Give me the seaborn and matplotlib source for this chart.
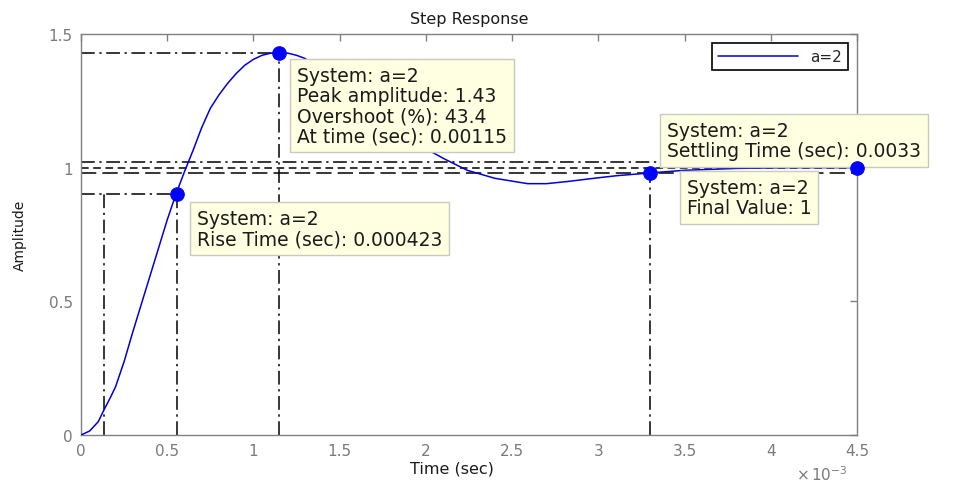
import matplotlib
matplotlib.use("Agg")
import matplotlib.pyplot as plt
import seaborn as sns

# Step response of the a=2 system: time in milliseconds, amplitude
time_ms = [0.00, 0.05, 0.10, 0.13, 0.17, 0.20, 0.25, 0.30, 0.35, 0.40,
           0.45, 0.50, 0.55, 0.60, 0.65, 0.70, 0.75, 0.80, 0.85, 0.90,
           0.95, 1.00, 1.05, 1.10, 1.15, 1.20, 1.25, 1.30, 1.40, 1.50,
           1.60, 1.70, 1.80, 1.90, 2.01, 2.10, 2.24, 2.40, 2.59, 2.70,
           2.82, 3.00, 3.11, 3.30, 3.50, 3.80, 4.10, 4.50]
amplitude = [0.000, 0.015, 0.050, 0.090, 0.140, 0.180, 0.275, 0.385, 0.490, 0.595,
             0.700, 0.805, 0.900, 0.985, 1.065, 1.150, 1.222, 1.272, 1.315, 1.352,
             1.383, 1.405, 1.420, 1.428, 1.430, 1.428, 1.420, 1.408, 1.350, 1.300,
             1.250, 1.190, 1.140, 1.100, 1.067, 1.035, 0.990, 0.960, 0.940, 0.940,
             0.948, 0.962, 0.970, 0.980, 0.990, 0.997, 1.000, 1.000]

# Response characteristics
system_name = "a=2"
peak_amplitude = 1.43
overshoot_pct = 43.4
peak_time_s = 0.00115
rise_low, rise_high = 0.1, 0.9
rise_start_s = 0.000133
rise_time_s = 0.000423
settling_time_s = 0.0033
settling_amp = 0.98
settling_band = 0.02
final_value = 1
final_time_s = 0.0045

x_ticks = [0, 0.5, 1, 1.5, 2, 2.5, 3, 3.5, 4, 4.5]
x_tick_labels = ["0", "0.5", "1", "1.5", "2", "2.5", "3", "3.5", "4", "4.5"]
y_ticks = [0, 0.5, 1, 1.5]
y_tick_labels = ["0", "0.5", "1", "1.5"]

sns.set_style("white")
plt.rcParams["font.family"] = ["DejaVu Sans"]

MS = 1e3
peak_t = peak_time_s * MS
rise_t0 = rise_start_s * MS
rise_t1 = (rise_start_s + rise_time_s) * MS
settle_t = settling_time_s * MS
final_t = final_time_s * MS

fig = plt.figure(figsize=(9.59, 4.85), dpi=100)
ax = fig.add_axes([0.0845, 0.101, 0.8091, 0.827])

line_color = "#0000D8"
ref_kw = dict(color="black", lw=1.1, zorder=2)
dashdot = (0, (9, 3, 1.5, 3))

# settling band and final value lines
ax.plot([0, final_t], [final_value + settling_band] * 2, linestyle=dashdot, **ref_kw)
ax.plot([0, final_t], [final_value] * 2, linestyle=(0, (5, 3)), **ref_kw)
ax.plot([0, final_t], [final_value - settling_band] * 2, linestyle=(0, (10, 4)), **ref_kw)

# peak guides
ax.plot([0, peak_t], [peak_amplitude] * 2, linestyle=dashdot, **ref_kw)
ax.plot([peak_t, peak_t], [0, peak_amplitude], linestyle=dashdot, **ref_kw)

# rise time guides
ax.plot([0, rise_t1], [rise_high] * 2, linestyle=dashdot, **ref_kw)
ax.plot([rise_t0, rise_t0], [0, rise_high], linestyle=dashdot, **ref_kw)
ax.plot([rise_t1, rise_t1], [0, rise_high], linestyle=dashdot, **ref_kw)

# settling time guide
ax.plot([settle_t, settle_t], [0, settling_amp], linestyle=dashdot, **ref_kw)

sns.lineplot(x=time_ms, y=amplitude, color=line_color, lw=1.1,
             label=system_name, ax=ax, zorder=3)

sns.scatterplot(x=[rise_t1, peak_t, settle_t, final_t],
                y=[rise_high, peak_amplitude, settling_amp, final_value],
                color="#0000FF", edgecolor="#0000FF", s=95, zorder=6,
                legend=False, ax=ax, clip_on=False)

box_kw = dict(boxstyle="square,pad=0.36", fc="#FFFFE1", ec="#C9C9BE", lw=1)
text_kw = dict(fontsize=13.5, color="#1a1a1a", ha="left", va="top",
               linespacing=1.07, zorder=5, clip_on=False)

ax.text(1.253, 1.380,
        f"System: {system_name}\nPeak amplitude: {peak_amplitude:.2f}\n"
        f"Overshoot (%): {overshoot_pct}\nAt time (sec): {peak_time_s:.5f}",
        bbox=box_kw, **text_kw)
ax.text(0.673, 0.845,
        f"System: {system_name}\nRise Time (sec): {rise_time_s:.6f}",
        bbox=box_kw, **text_kw)
ax.text(3.398, 1.175,
        f"System: {system_name}\nSettling Time (sec): {settling_time_s:.4f}",
        bbox=box_kw, **text_kw)
ax.text(3.514, 0.961,
        f"System: {system_name}\nFinal Value: {final_value}",
        bbox=box_kw, **text_kw)

ax.set_xlim(0, 4.5)
ax.set_ylim(0, 1.5)
ax.set_xticks(x_ticks)
ax.set_xticklabels(x_tick_labels)
ax.set_yticks(y_ticks)
ax.set_yticklabels(y_tick_labels)
ax.tick_params(direction="in", length=5, width=1, colors="#808080",
               labelcolor="#7a7a7a", labelsize=11, top=True, right=True,
               pad=6)
for sp in ax.spines.values():
    sp.set_color("#808080")
    sp.set_linewidth(1)
    sp.set_visible(True)

ax.set_title("Step Response", fontsize=11.5, color="#1a1a1a", pad=8)
ax.set_xlabel("Time (sec)", fontsize=11.5, color="#1a1a1a")
ax.set_ylabel("Amplitude", fontsize=10, color="#1a1a1a")
ax.xaxis.set_label_coords(0.478, -0.064)
ax.yaxis.set_label_coords(-0.07, 0.5)
ax.text(0.988, -0.112, r"$\times\,10^{-3}$", transform=ax.transAxes,
        ha="right", va="baseline", fontsize=11, color="#7a7a7a")

leg = ax.legend(loc="upper right", bbox_to_anchor=(0.988, 0.977),
                borderaxespad=0, fancybox=False, frameon=True,
                fontsize=11, handlelength=5.2, handletextpad=0.8,
                borderpad=0.4)
leg.get_frame().set_edgecolor("black")
leg.get_frame().set_linewidth(1.2)
leg.get_frame().set_alpha(1)

fig.savefig("out.png", dpi=100)
